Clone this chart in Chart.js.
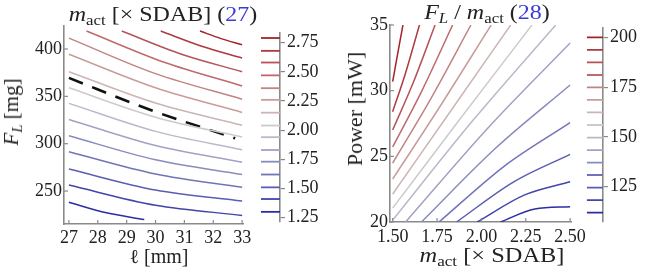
<!DOCTYPE html>
<html><head><meta charset="utf-8">
<script src="https://cdn.jsdelivr.net/npm/chart.js@4.4.1/dist/chart.umd.min.js"></script>
<style>
html,body{margin:0;padding:0;background:#fff;}
#wrap{position:relative;width:649px;height:270px;overflow:hidden;background:#fff;font-family:"Liberation Serif","Times New Roman",serif;color:#222;}
.box{position:absolute;top:0;height:270px;}
.lbl{position:absolute;white-space:nowrap;font-size:20px;line-height:1;}
.sb{font-size:14px;position:relative;top:4px;}
.blue{color:#3a3ad8;}
</style></head><body>
<div id="wrap">
  <div class="box" style="left:0;width:262px"><canvas id="c1"></canvas></div>
  <div class="box" style="left:250px;width:80px"><canvas id="c2"></canvas></div>
  <div class="box" style="left:330px;width:260px"><canvas id="c3"></canvas></div>
  <div class="box" style="left:580px;width:69px"><canvas id="c4"></canvas></div>

  <div class="lbl" style="left:163px;top:14px;transform:translate(-50%,-50%) scaleX(1.2)"><i>m</i><span class="sb">act</span> [× SDAB] (<span class="blue">27</span>)</div>
  <div class="lbl" style="left:159px;top:256px;transform:translate(-50%,-50%)">ℓ [mm]</div>
  <div class="lbl" style="left:11px;top:112px;transform:translate(-50%,-50%) rotate(-90deg) scaleX(1.05)"><i>F</i><span class="sb"><i>L</i></span> [mg]</div>

  <div class="lbl" style="left:487px;top:12px;transform:translate(-50%,-50%) scaleX(1.2)"><i>F</i><span class="sb"><i>L</i></span> / <i>m</i><span class="sb">act</span> (<span class="blue">28</span>)</div>
  <div class="lbl" style="left:492px;top:255px;transform:translate(-50%,-50%) scaleX(1.22)"><i>m</i><span class="sb">act</span> [× SDAB]</div>
  <div class="lbl" style="left:355px;top:109px;transform:translate(-50%,-50%) rotate(-90deg) scaleX(1.1)">Power [mW]</div>
</div>
<script>
// ---------- data: left panel (m_act contours over ℓ and F_L) ----------
const leftLevels = [2.79, 2.68, 2.58, 2.47, 2.36, 2.26, 2.15, 2.04, 1.94, 1.83, 1.73, 1.62, 1.51, 1.41, 1.30];
const leftEll = [
  [31.54, 32.27, 33], [30.18, 31.6, 33], [28.83, 30.9, 33], [27.61, 30.3, 33],
  [27, 30, 33], [27, 30, 33], [27, 30, 33], [27, 30, 33], [27, 30, 33],
  [27, 30, 33], [27, 30, 33], [27, 30, 33], [27, 30, 33], [27, 30, 33],
  [27, 28.3, 29.61]
];
const leftForce = [
  [419, 411, 404.5], [419, 403, 390.5], [419, 394.5, 376], [419, 386, 361],
  [411.5, 374, 347], [394.4, 359, 333], [376, 343, 319.5], [359, 328, 307],
  [342.6, 313, 293.5], [325.5, 298, 280.5], [308.4, 283, 267.5], [291.5, 268, 254],
  [273.2, 251, 239.4], [256.3, 235, 224.3], [238.1, 227, 220]
];
const dashEll = [27, 29.83, 32.76];
const dashForce = [369.5, 335.6, 305.7];
const leftXTicks = [27, 28, 29, 30, 31, 32, 33];
const leftYTicks = [250, 300, 350, 400];
const leftBarTicks = [1.25, 1.50, 1.75, 2.00, 2.25, 2.50, 2.75];

// ---------- data: right panel (F_L/m_act contours over m_act and Power) ----------
const rightLevels = [200, 193.7, 187.4, 181.1, 174.9, 168.6, 162.3, 156, 149.7, 143.4, 137.1, 130.9, 124.6, 118.3, 112];
const rightMass = [
  [1.5, 1.524, 1.558], [1.5, 1.571, 1.651], [1.5, 1.615, 1.739], [1.5, 1.664, 1.838],
  [1.5, 1.717, 1.941], [1.5, 1.772, 2.055], [1.5, 1.827, 2.165], [1.5, 1.888, 2.285],
  [1.5, 1.954, 2.419], [1.573, 2.037, 2.5], [1.662, 2.081, 2.5], [1.761, 2.130, 2.5],
  [1.860, 2.180, 2.5], [1.976, 2.241, 2.5], [2.108, 2.301, 2.5]
];
const rightPower = [
  [30.68, 32.49, 35], [28.40, 31.27, 35], [27.0, 30.58, 35], [25.71, 29.97, 35],
  [24.49, 29.44, 35], [23.27, 28.91, 35], [22.13, 28.45, 35], [21.06, 27.99, 35],
  [20.15, 27.76, 35], [20, 27.16, 33.63], [20, 25.63, 30.43], [20, 24.26, 27.56],
  [20, 23.04, 25.15], [20, 22.05, 23.07], [20, 20.99, 21.16]
];
const rightXTicks = [1.50, 1.75, 2.00, 2.25, 2.50];
const rightYTicks = [20, 25, 30, 35];
const rightBarTicks = [125, 150, 175, 200];

// ---------- styles ----------
const palette = ['#a3232b','#ad3a40','#b65257','#bd6a6d','#c38384','#c89c9b','#cbb4b3','#cdcaca',
                 '#b8b9c9','#a1a2c3','#898bbd','#7174b7','#5a5db0','#4245a9','#2b2ea2'];
const axisColor = '#8a8a8a';
const tickFont = {family: '"Liberation Serif","Times New Roman",serif', size: 18};
const tickColor = '#222';

const inTicks = {
  id: 'inTicks',
  afterDraw(chart, args, opts) {
    if (!opts || !opts.on) return;
    const ctx = chart.ctx, a = chart.chartArea;
    ctx.save();
    ctx.strokeStyle = opts.color; ctx.lineWidth = 1.2;
    const xs = chart.scales.x, ys = chart.scales.y;
    opts.xt.forEach(v => { const p = xs.getPixelForValue(v); ctx.beginPath(); ctx.moveTo(p, a.bottom); ctx.lineTo(p, a.bottom - opts.len); ctx.stroke(); });
    opts.yt.forEach(v => { const p = ys.getPixelForValue(v); ctx.beginPath(); ctx.moveTo(a.left, p); ctx.lineTo(a.left + opts.len, p); ctx.stroke(); });
    ctx.restore();
  }
};
Chart.register(inTicks);

function lineDS(xs, ys, color, extra) {
  return Object.assign({data: xs.map((x, i) => ({x: x, y: ys[i]})), borderColor: color, borderWidth: 1.5,
    pointRadius: 0, fill: false, cubicInterpolationMode: 'monotone'}, extra || {});
}

function mainChart(id, xMin, xMax, yMin, yMax, xt, yt, datasets, pad, yw, xh, fmtX, xpad) {
  return new Chart(document.getElementById(id), {
    type: 'line',
    data: {datasets: datasets},
    options: {
      responsive: true, maintainAspectRatio: false, animation: false,
      layout: {padding: pad},
      plugins: {legend: {display: false}, tooltip: {enabled: false},
                inTicks: {on: true, len: 4, color: axisColor, xt: xt, yt: yt}},
      scales: {
        x: {type: 'linear', min: xMin, max: xMax,
            afterBuildTicks: s => { s.ticks = xt.map(v => ({value: v})); },
            afterFit: s => { s.height = xh; },
            ticks: {font: tickFont, color: tickColor, padding: xpad, maxRotation: 0, autoSkip: false, callback: fmtX},
            grid: {display: false, drawTicks: false}, border: {display: true, color: axisColor, width: 1.6}},
        y: {type: 'linear', min: yMin, max: yMax,
            afterBuildTicks: s => { s.ticks = yt.map(v => ({value: v})); },
            afterFit: s => { s.width = yw; },
            ticks: {font: tickFont, color: tickColor, padding: 2, autoSkip: false, callback: v => String(v)},
            grid: {display: false, drawTicks: false}, border: {display: true, color: axisColor, width: 1.6}}
      }
    }
  });
}

function barChart(id, levels, yMin, yMax, yt, pad, yw, fmt) {
  const ds = levels.map((lv, i) => lineDS([0, 1], [lv, lv], palette[i], {borderWidth: 1.8, cubicInterpolationMode: 'default'}));
  return new Chart(document.getElementById(id), {
    type: 'line',
    data: {datasets: ds},
    options: {
      responsive: true, maintainAspectRatio: false, animation: false,
      layout: {padding: pad},
      plugins: {legend: {display: false}, tooltip: {enabled: false}},
      scales: {
        x: {type: 'linear', min: 0, max: 1, display: false},
        y: {type: 'linear', position: 'right', min: yMin, max: yMax,
            afterBuildTicks: s => { s.ticks = yt.map(v => ({value: v})); },
            afterFit: s => { s.width = yw; },
            ticks: {font: tickFont, color: tickColor, padding: 2, autoSkip: false, callback: fmt},
            grid: {display: true, drawOnChartArea: false, drawTicks: true, tickLength: 5, color: axisColor, lineWidth: 1.2},
            border: {display: true, color: axisColor, width: 1.6}}
      }
    }
  });
}

// left main
const leftDS = leftLevels.map((lv, i) => lineDS(leftEll[i], leftForce[i], palette[i]));
leftDS.push(lineDS(dashEll, dashForce, '#111', {borderWidth: 2.6, borderDash: [15, 10]}));
mainChart('c1', 26.83, 33.03, 215.2, 424.3, leftXTicks, leftYTicks, leftDS,
  {left: 0, right: 19, top: 26, bottom: 0}, 64, 46, v => String(v), 3);
barChart('c2', leftLevels, 1.213, 2.833, leftBarTicks, {left: 11, right: 0, top: 33, bottom: 48}, 50, v => v.toFixed(2));

// right main
const rightDS = rightLevels.map((lv, i) => lineDS(rightMass[i], rightPower[i], palette[i]));
mainChart('c3', 1.485, 2.51, 20, 35, rightXTicks, rightYTicks, rightDS,
  {left: 0, right: 15, top: 25, bottom: 0}, 60, 48, v => v.toFixed(2), 4);
barChart('c4', rightLevels, 107.3, 204.7, rightBarTicks, {left: 6.7, right: 0, top: 28, bottom: 48}, 46, v => String(v));
</script>
</body></html>
